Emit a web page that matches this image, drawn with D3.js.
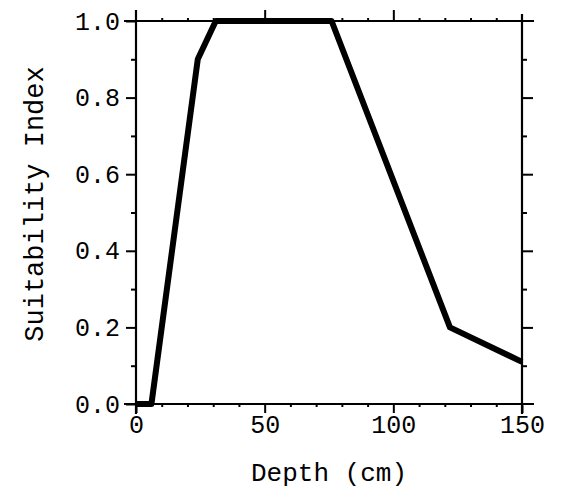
<!DOCTYPE html>
<html><head><meta charset="utf-8">
<script src="https://cdn.jsdelivr.net/npm/d3@7"></script>
<style>body{margin:0;background:#fff}svg{display:block}</style>
</head><body>
<svg id="c" width="565" height="490"></svg>
<script>
const depth = [0, 6, 24, 31, 76, 122, 150];
const suitability = [0, 0, 0.9, 1.0, 1.0, 0.2, 0.11];
const xMajorTicks = [0, 50, 100, 150];
const yMajorTicks = [0, 0.2, 0.4, 0.6, 0.8, 1.0];
const xLabel = "Depth (cm)";
const yLabel = "Suitability Index";

const svg = d3.select("#c");
const font = "'Liberation Mono', 'DejaVu Sans Mono', monospace";
const x = d3.scaleLinear().domain([0, 150]).range([136, 522]);
const y = d3.scaleLinear().domain([0, 1]).range([404, 21]);
const xMinor = d3.range(0, 151, 10).filter(v => !xMajorTicks.includes(v));
const yMinor = d3.range(1, 10, 2).map(v => v / 10);

function style(g) {
  g.selectAll("path.domain").remove();
  g.selectAll("line").attr("stroke", "#000").attr("stroke-width", 2);
  g.selectAll("text").attr("fill", "#000").style("font-family", font).style("font-size", "25px");
}

// frame lines (extending slightly past corners)
const frame = svg.append("g").attr("stroke", "#000").attr("stroke-width", 2.2);
frame.append("line").attr("x1", 124).attr("x2", 534).attr("y1", y(0)).attr("y2", y(0));
frame.append("line").attr("x1", 124).attr("x2", 534).attr("y1", y(1)).attr("y2", y(1));
frame.append("line").attr("x1", x(0)).attr("x2", x(0)).attr("y1", 10).attr("y2", 414);
frame.append("line").attr("x1", x(150)).attr("x2", x(150)).attr("y1", 14).attr("y2", 414);

// bottom axis
svg.append("g").attr("transform", `translate(0,${y(0)})`)
  .call(d3.axisBottom(x).tickValues(xMajorTicks).tickFormat(d3.format("d")).tickSize(9).tickPadding(2))
  .call(style);
svg.append("g").attr("transform", `translate(0,${y(0)})`)
  .call(d3.axisBottom(x).tickValues(xMinor).tickFormat("").tickSize(3)).call(style);
// top axis
svg.append("g").attr("transform", `translate(0,${y(1)})`)
  .call(d3.axisTop(x).tickValues([50, 100]).tickFormat("").tickSize(11)).call(style);
svg.append("g").attr("transform", `translate(0,${y(1)})`)
  .call(d3.axisTop(x).tickValues(xMinor).tickFormat("").tickSize(3)).call(style);
// left axis
svg.append("g").attr("transform", `translate(${x(0)},0)`)
  .call(d3.axisLeft(y).tickValues(yMajorTicks).tickFormat(d3.format(".1f")).tickSize(10).tickPadding(6))
  .call(style);
svg.append("g").attr("transform", `translate(${x(0)},0)`)
  .call(d3.axisLeft(y).tickValues(yMinor).tickFormat("").tickSize(5)).call(style);
// right axis
svg.append("g").attr("transform", `translate(${x(150)},0)`)
  .call(d3.axisRight(y).tickValues(yMajorTicks.slice(1, 5)).tickFormat("").tickSize(11)).call(style);
svg.append("g").attr("transform", `translate(${x(150)},0)`)
  .call(d3.axisRight(y).tickValues(yMinor).tickFormat("").tickSize(5)).call(style);

// data line
const pts = depth.map((d, i) => [d, suitability[i]]);
svg.append("path").datum(pts)
  .attr("fill", "none").attr("stroke", "#000").attr("stroke-width", 6)
  .attr("stroke-linejoin", "round")
  .attr("d", d3.line().x(d => x(d[0])).y(d => y(d[1])));

// labels
svg.append("text").attr("x", 329).attr("y", 481).attr("text-anchor", "middle")
  .style("font-family", font).style("font-size", "26px").text(xLabel);
svg.append("text").attr("transform", "translate(43,204) rotate(-90)").attr("text-anchor", "middle")
  .style("font-family", font).style("font-size", "27px").text(yLabel);
</script>
</body></html>
